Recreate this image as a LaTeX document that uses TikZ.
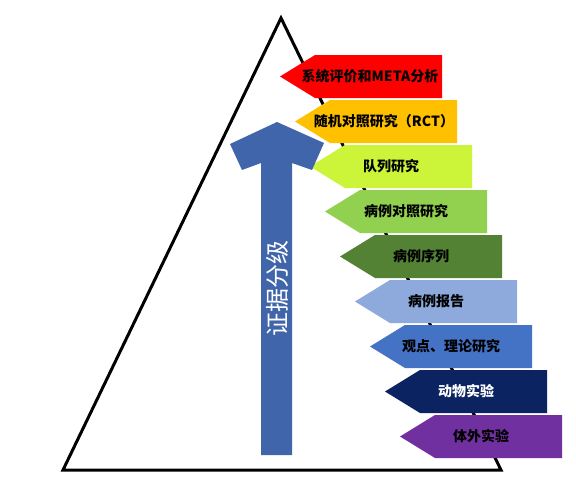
\documentclass[tikz,border=0pt]{standalone}
\usepackage{fontspec}
\newfontfamily\cjk{Noto Sans CJK SC}
\definecolor{cRed}{HTML}{FF0000}
\definecolor{cOrange}{HTML}{FFC000}
\definecolor{cLime}{HTML}{CCF53A}
\definecolor{cGreen}{HTML}{92D050}
\definecolor{cDkGreen}{HTML}{548235}
\definecolor{cLtBlue}{HTML}{8EA9DB}
\definecolor{cBlue}{HTML}{4472C4}
\definecolor{cNavy}{HTML}{0B2461}
\definecolor{cPurple}{HTML}{7030A0}
\definecolor{cArrow}{HTML}{4065AA}
\tikzset{
  pyramid/.style={draw=black, line width=3pt, line join=miter},
  bannertext/.style={font=\cjk\bfseries\fontsize{14}{16}\selectfont, inner sep=0pt, anchor=center},
  bigarrow/.style={fill=cArrow},
  arrowtext/.style={font=\cjk\fontsize{24}{26}\selectfont, text=white, rotate=90, inner sep=0pt}
}
\begin{document}
\begin{tikzpicture}[x=1pt,y=-1pt]
\useasboundingbox[fill=white] (0,0) rectangle (576,483);
% pyramid
\coordinate (apex) at (281,18);
\coordinate (bl) at (63,470);
\coordinate (br) at (501,470);
\draw[pyramid] (apex) -- (bl) -- (br) -- cycle;
% banners
\foreach \i/\col/\tc/\dx/\txt in {
  0/cRed/black/9/{系统评价和META分析},
  1/cOrange/black/8/{随机对照研究（RCT）},
  2/cLime/black/0/{队列研究},
  3/cGreen/black/0/{病例对照研究},
  4/cDkGreen/black/0/{病例序列},
  5/cLtBlue/black/0/{病例报告},
  6/cBlue/black/0/{观点、理论研究},
  7/cNavy/white/0/{动物实验},
  8/cPurple/black/0/{体外实验}} {
  \pgfmathsetmacro\tp{55+45*\i}
  \pgfmathsetmacro\bt{\tp+43}
  \pgfmathsetmacro\md{\tp+21.5}
  \pgfmathsetmacro\tip{280+15*\i}
  \pgfmathsetmacro\tipb{\tip+35}
  \pgfmathsetmacro\rt{442+15*\i}
  \pgfmathsetmacro\cx{(\tip+\rt)/2+\dx}
  \fill[\col] (\tip,\md) -- (\tipb,\tp) -- (\rt,\tp) -- (\rt,\bt) -- (\tipb,\bt) -- cycle;
  \node[bannertext, text=\tc] (b\i) at (\cx,\md) {\txt};
}
% evidence arrow
\fill[bigarrow] (261,455) -- (261,163) -- (242,170) -- (230,144) -- (277,122)
  -- (324,143) -- (312,170) -- (292,163) -- (292,455) -- cycle;
\node[arrowtext] (lvl) at (277,288) {证据分级};
\end{tikzpicture}
\end{document}
